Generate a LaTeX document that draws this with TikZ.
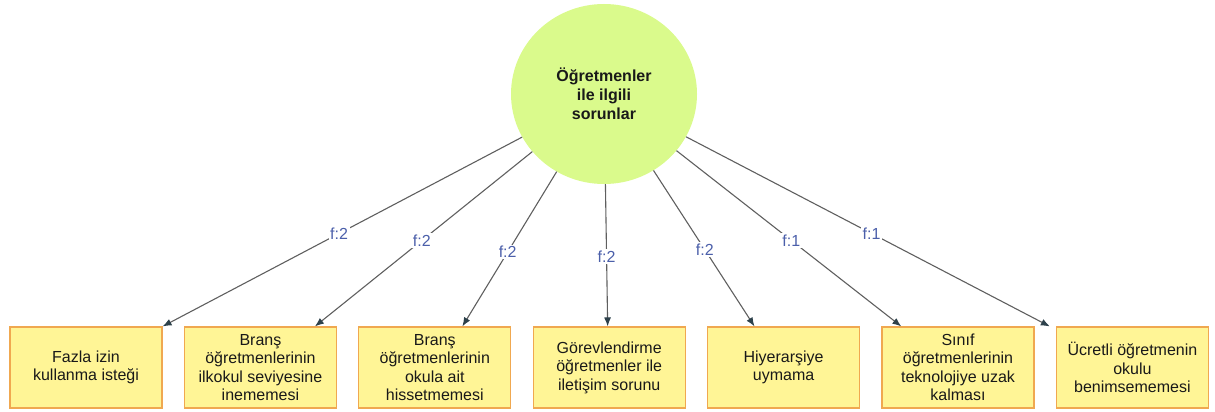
\documentclass[tikz,border=0pt]{standalone}
\usepackage{fontspec}
\setmainfont{Liberation Sans}
\usetikzlibrary{arrows.meta,calc,shapes.geometric}
\definecolor{hubfill}{RGB}{218,250,140}
\definecolor{boxfill}{RGB}{255,245,150}
\definecolor{boxedge}{RGB}{240,168,80}
\definecolor{linkgray}{RGB}{95,95,95}
\definecolor{tipcol}{RGB}{45,65,75}
\definecolor{freqblue}{RGB}{75,95,170}
\definecolor{inktext}{RGB}{25,25,25}

\begin{document}
\begin{tikzpicture}[x=1pt,y=1pt,
  hub/.style={ellipse, fill=hubfill, minimum width=186pt, minimum height=180pt, inner sep=0pt,
    align=center, font=\fontsize{16}{19}\selectfont\bfseries, text=inktext},
  item/.style={draw=boxedge, line width=1.1pt, fill=boxfill, minimum width=152pt,
    minimum height=81pt, inner sep=2pt, align=center,
    font=\fontsize{16}{18.5}\selectfont, text=inktext},
  link/.style={draw=linkgray, line width=1.1pt, -{Latex[length=9pt,width=7pt,color=tipcol]}},
  freq/.style={fill=white, inner sep=1.5pt, text=freqblue, font=\fontsize{16}{16}\selectfont}]
\useasboundingbox (0,0) rectangle (1215,-412);

% central theme
\node[hub] (c) at (604,-94) {Öğretmenler\\ile ilgili\\sorunlar};

% problem boxes
\node[item] (b1) at (86,-367.5)    {Fazla izin\\kullanma isteği};
\node[item] (b2) at (260.4,-367.5) {Branş\\öğretmenlerinin\\ilkokul seviyesine\\inememesi};
\node[item] (b3) at (434.8,-367.5) {Branş\\öğretmenlerinin\\okula ait\\hissetmemesi};
\node[item] (b4) at (609.2,-367.5) {Görevlendirme\\öğretmenler ile\\iletişim sorunu};
\node[item] (b5) at (783.6,-367.5) {Hiyerarşiye\\uymama};
\node[item] (b6) at (958,-367.5)   {Sınıf\\öğretmenlerinin\\teknolojiye uzak\\kalması};
\node[item] (b7) at (1132.4,-367.5){Ücretli öğretmenin\\okulu\\benimsememesi};

% arrow end points on the box tops
\coordinate (t1) at (b1.north east);
\coordinate (t2) at ($(b2.north west)!0.856!(b2.north east)$);
\coordinate (t3) at ($(b3.north west)!0.68!(b3.north east)$);
\coordinate (t4) at ($(b4.north west)!0.49!(b4.north east)$);
\coordinate (t5) at ($(b5.north west)!0.31!(b5.north east)$);
\coordinate (t6) at ($(b6.north west)!0.13!(b6.north east)$);
\coordinate (t7) at ($(b7.north west)+(-6,0)$);

% connectors
\foreach \i in {1,...,7} {
  \draw[link] (c) -- (t\i);
}

% frequency labels
\node[freq] (f1) at ($(c.center)!0.60!(t1)$) {f:2};
\node[freq] (f2) at ($(c.center)!0.63!(t2)$) {f:2};
\node[freq] (f3) at ($(c.center)!0.68!(t3)$) {f:2};
\node[freq] (f4) at ($(c.center)!0.70!(t4)$) {f:2};
\node[freq] (f5) at ($(c.center)!0.67!(t5)$) {f:2};
\node[freq] (f6) at ($(c.center)!0.63!(t6)$) {f:1};
\node[freq] (f7) at ($(c.center)!0.60!(t7)$) {f:1};
\end{tikzpicture}
\end{document}
